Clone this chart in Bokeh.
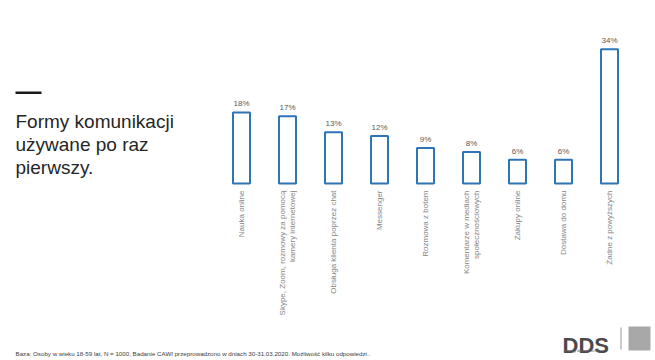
from bokeh.plotting import figure
from bokeh.models import ColumnDataSource, Label, Range1d, BoxAnnotation
from bokeh.core.properties import value
from bokeh.embed import file_html
from bokeh.resources import INLINE
import math

categories = [
    "Nauka online",
    "Skype, Zoom, rozmowy za pomocą\nkamery internetowej",
    "Obsługa klienta poprzez chat",
    "Messenger",
    "Rozmowa z botem",
    "Komentarze w mediach\nspołecznościowych",
    "Zakupy online",
    "Dostawa do domu",
    "Żadne z powyższych",
]
values = [18, 17, 13, 12, 9, 8, 6, 6, 34]
labels = [f"{v}%" for v in values]

W, H = 655, 360
# pixel geometry: first bar centre at x=241, spacing 46; baseline at y=183 from top, 3.95 px per %
STEP = 46.0
PX = 3.95
x0 = -241 / STEP
y0 = -(H - 183) / PX
p = figure(width=W, height=H,
           x_range=Range1d(x0, x0 + W / STEP), y_range=Range1d(y0, y0 + H / PX),
           output_backend="svg", toolbar_location=None,
           min_border_left=0, min_border_right=0, min_border_top=0, min_border_bottom=0)
p.outline_line_color = None
p.grid.grid_line_color = None
p.axis.visible = False
p.background_fill_color = "white"
p.border_fill_color = "white"

idx = list(range(len(categories)))
src = ColumnDataSource(dict(x=idx, cat=categories, val=values, lab=labels, zero=[0] * len(values)))
p.vbar(x="x", top="val", bottom="zero", width=0.37, source=src, fill_color="white",
       line_color="#2E75B6", line_width=2)
p.text(x="x", y="val", text="lab", source=src, text_align="center", text_baseline="bottom",
       y_offset=-4, text_font_size="8px", text_color="#595959", text_font=value("Liberation Sans"))
# category labels, rotated, hanging below the baseline
p.text(x="x", y="zero", text="cat", source=src, angle=math.pi / 2, text_align="right",
       text_baseline="middle", y_offset=7, text_font_size="8px", text_color="#858585",
       text_font=value("Liberation Sans"), text_line_height=1.1)

font = "Liberation Sans"

def box(l, r, t, b, color):
    p.add_layout(BoxAnnotation(left=l, right=r, top=t, bottom=b,
                               left_units="screen", right_units="screen", top_units="screen", bottom_units="screen",
                               fill_color=color, fill_alpha=1, line_color=None))

box(15, 41, 269, 266.5, "#1a1a1a")
for i, t in enumerate(["Formy komunikacji", "używane po raz", "pierwszy."]):
    p.add_layout(Label(x=15, y=239 - 23 * i, x_units="screen", y_units="screen", text=t,
                       text_font_size="19px", text_color="#262626", text_font=font, text_baseline="alphabetic"))

p.add_layout(Label(x=15, y=7, x_units="screen", y_units="screen",
                   text="Baza: Osoby w wieku 18-59 lat, N = 1000, Badanie CAWI przeprowadzono w dniach 30-31.03.2020. Możliwość kilku odpowiedzi..",
                   text_font_size="6.2px", text_color="#404040", text_font=font, text_baseline="alphabetic"))
p.add_layout(Label(x=562, y=15, x_units="screen", y_units="screen", text="DDS",
                   text_font_size="22px", text_font_style="bold", text_color="#4a4a4a", text_font=font,
                   text_baseline="alphabetic"))
p.add_layout(Label(x=563, y=10, x_units="screen", y_units="screen", text="strategy data research",
                   text_font_size="3.5px", text_color="#6a6a6a", text_font=font, text_baseline="alphabetic"))
box(620, 621, 33, 11, "#9a9a9a")
box(628, 650, 34, 10, "#a8a8a8")

open("out.html", "w").write(file_html(p, INLINE))
